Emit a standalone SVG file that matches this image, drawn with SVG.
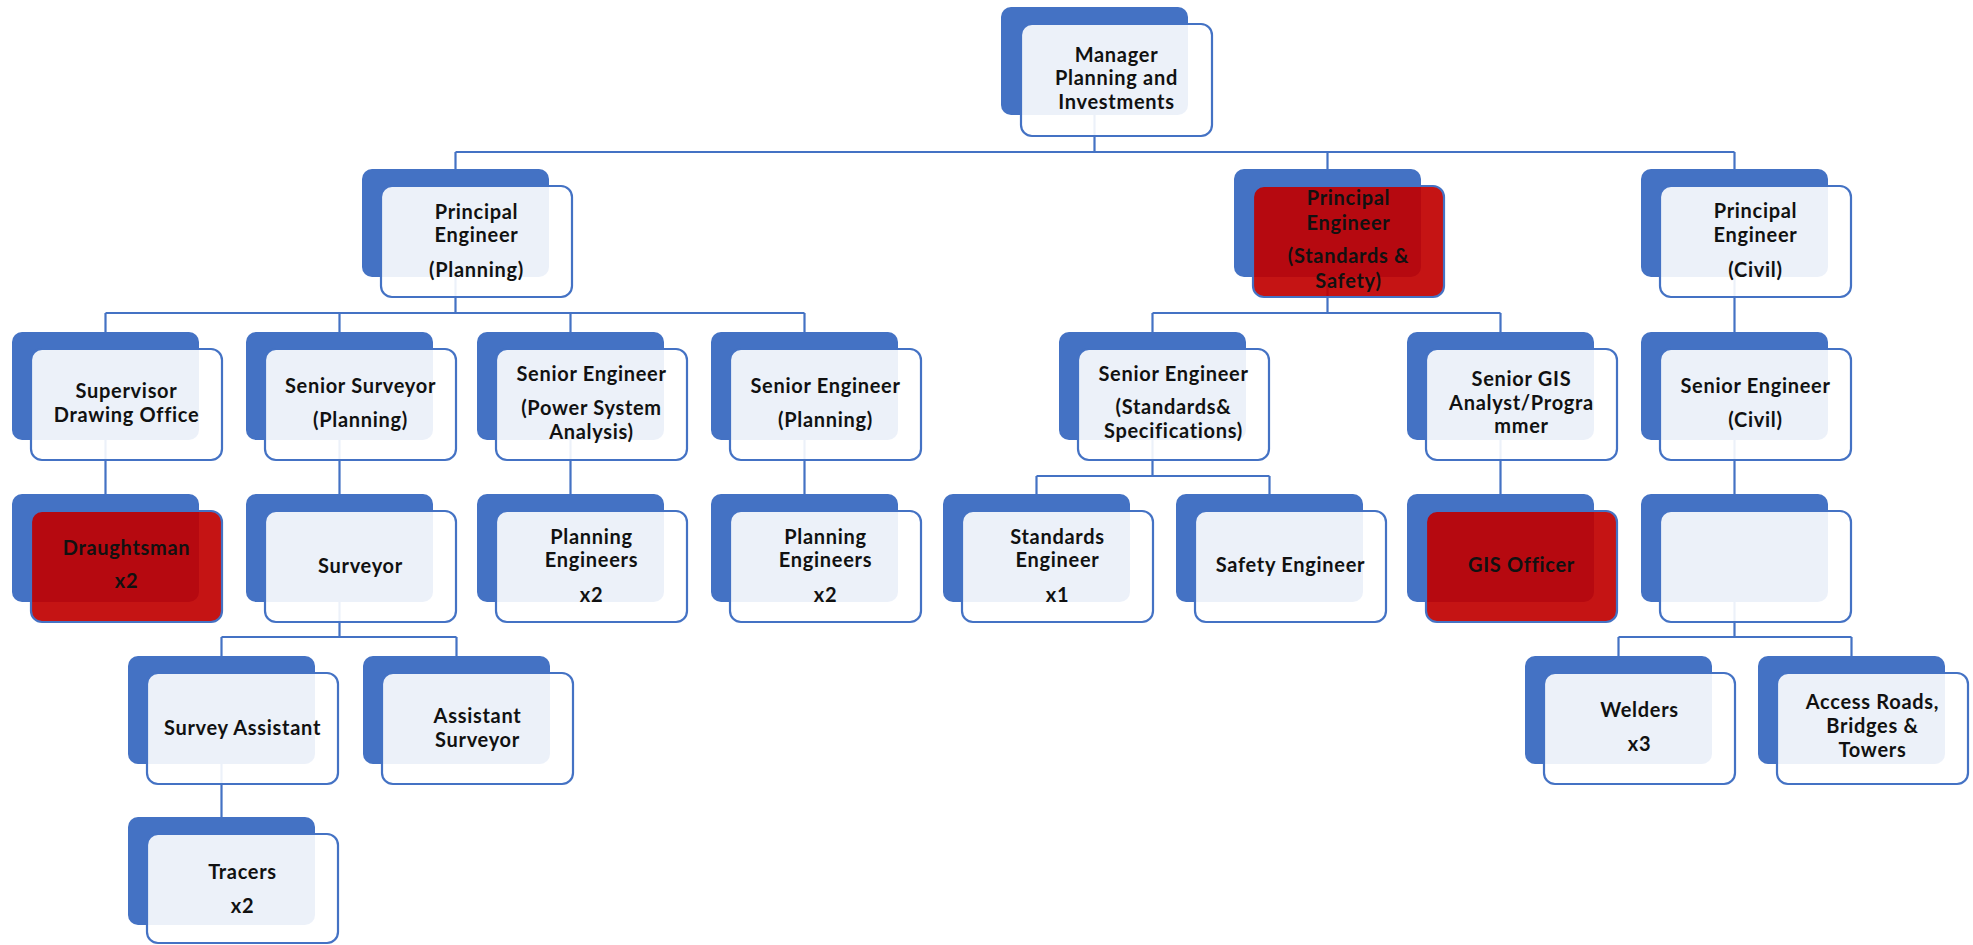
<svg xmlns="http://www.w3.org/2000/svg" width="1973" height="945" viewBox="0 0 1973 945">
<style>
.back{fill:#4472C4;}
.front{fill:#FFFFFF;fill-opacity:0.9;stroke:#4472C4;stroke-width:2.2;}
.red{fill:#C00000;fill-opacity:0.92;stroke:#4472C4;stroke-width:2.2;}
.t{font-family:Lato,"Liberation Sans",sans-serif;font-weight:bold;font-size:20px;letter-spacing:0.7px;fill:#111;text-anchor:middle;}
.c{fill:none;stroke:#4472C4;stroke-width:2.2;}
</style>
<rect width="1973" height="945" fill="#FFFFFF"/>
<g id="connectors" class="c">
<path d="M1094.5 115V152M455.5 152H1734.5M455.5 152V169M1327.5 152V169M1734.5 152V169"/>
<path d="M455.5 277V313M105.5 313H804.5M105.5 313V332M339.5 313V332M570.5 313V332M804.5 313V332"/>
<path d="M1327.5 277V313M1152.5 313H1500.5M1152.5 313V332M1500.5 313V332"/>
<path d="M1734.5 277V332"/>
<path d="M105.5 440V494M339.5 440V494M570.5 440V494M804.5 440V494M1500.5 440V494M1734.5 440V494"/>
<path d="M1152.5 440V476M1036.5 476H1269.5M1036.5 476V494M1269.5 476V494"/>
<path d="M339.5 602V637M221.5 637H456.5M221.5 637V656M456.5 637V656"/>
<path d="M1734.5 602V637M1618.5 637H1851.5M1618.5 637V656M1851.5 637V656"/>
<path d="M221.5 764V817"/>
</g>
<g id="manager">
<rect class="back" x="1001" y="7" width="187" height="108" rx="10"/>
<rect class="front" x="1021" y="24" width="191" height="112" rx="11"/>
<text class="t"><tspan x="1116.5" y="62">Manager</tspan><tspan x="1116.5" y="85">Planning and</tspan><tspan x="1116.5" y="109">Investments</tspan></text>
</g>
<g id="principal-planning">
<rect class="back" x="362" y="169" width="187" height="108" rx="10"/>
<rect class="front" x="381" y="186" width="191" height="111" rx="11"/>
<text class="t"><tspan x="476.5" y="219">Principal</tspan><tspan x="476.5" y="242">Engineer</tspan><tspan x="476.5" y="277">(Planning)</tspan></text>
</g>
<g id="principal-standards">
<rect class="back" x="1234" y="169" width="187" height="108" rx="10"/>
<rect class="red" x="1253" y="186" width="191" height="111" rx="11"/>
<text class="t"><tspan x="1348.5" y="205">Principal</tspan><tspan x="1348.5" y="230">Engineer</tspan><tspan x="1348.5" y="263">(Standards &amp;</tspan><tspan x="1348.5" y="288">Safety)</tspan></text>
</g>
<g id="principal-civil">
<rect class="back" x="1641" y="169" width="187" height="108" rx="10"/>
<rect class="front" x="1660" y="186" width="191" height="111" rx="11"/>
<text class="t"><tspan x="1755.5" y="218">Principal</tspan><tspan x="1755.5" y="242">Engineer</tspan><tspan x="1755.5" y="277">(Civil)</tspan></text>
</g>
<g id="supervisor-drawing-office">
<rect class="back" x="12" y="332" width="187" height="108" rx="10"/>
<rect class="front" x="31" y="349" width="191" height="111" rx="11"/>
<text class="t"><tspan x="126.5" y="398">Supervisor</tspan><tspan x="126.5" y="422">Drawing Office</tspan></text>
</g>
<g id="senior-surveyor">
<rect class="back" x="246" y="332" width="187" height="108" rx="10"/>
<rect class="front" x="265" y="349" width="191" height="111" rx="11"/>
<text class="t"><tspan x="360.5" y="393">Senior Surveyor</tspan><tspan x="360.5" y="427">(Planning)</tspan></text>
</g>
<g id="senior-engineer-psa">
<rect class="back" x="477" y="332" width="187" height="108" rx="10"/>
<rect class="front" x="496" y="349" width="191" height="111" rx="11"/>
<text class="t"><tspan x="591.5" y="381">Senior Engineer</tspan><tspan x="591.5" y="415">(Power System</tspan><tspan x="591.5" y="439">Analysis)</tspan></text>
</g>
<g id="senior-engineer-planning">
<rect class="back" x="711" y="332" width="187" height="108" rx="10"/>
<rect class="front" x="730" y="349" width="191" height="111" rx="11"/>
<text class="t"><tspan x="825.5" y="393">Senior Engineer</tspan><tspan x="825.5" y="427">(Planning)</tspan></text>
</g>
<g id="senior-engineer-standards">
<rect class="back" x="1059" y="332" width="187" height="108" rx="10"/>
<rect class="front" x="1078" y="349" width="191" height="111" rx="11"/>
<text class="t"><tspan x="1173.5" y="381">Senior Engineer</tspan><tspan x="1173.5" y="414">(Standards&amp;</tspan><tspan x="1173.5" y="438">Specifications)</tspan></text>
</g>
<g id="senior-gis">
<rect class="back" x="1407" y="332" width="187" height="108" rx="10"/>
<rect class="front" x="1426" y="349" width="191" height="111" rx="11"/>
<text class="t"><tspan x="1521.5" y="386">Senior GIS</tspan><tspan x="1521.5" y="410">Analyst/Progra</tspan><tspan x="1521.5" y="433">mmer</tspan></text>
</g>
<g id="senior-engineer-civil">
<rect class="back" x="1641" y="332" width="187" height="108" rx="10"/>
<rect class="front" x="1660" y="349" width="191" height="111" rx="11"/>
<text class="t"><tspan x="1755.5" y="393">Senior Engineer</tspan><tspan x="1755.5" y="427">(Civil)</tspan></text>
</g>
<g id="draughtsman">
<rect class="back" x="12" y="494" width="187" height="108" rx="10"/>
<rect class="red" x="31" y="511" width="191" height="111" rx="11"/>
<text class="t"><tspan x="126.5" y="555">Draughtsman</tspan><tspan x="126.5" y="588">x2</tspan></text>
</g>
<g id="surveyor">
<rect class="back" x="246" y="494" width="187" height="108" rx="10"/>
<rect class="front" x="265" y="511" width="191" height="111" rx="11"/>
<text class="t"><tspan x="360.5" y="573">Surveyor</tspan></text>
</g>
<g id="planning-engineers-1">
<rect class="back" x="477" y="494" width="187" height="108" rx="10"/>
<rect class="front" x="496" y="511" width="191" height="111" rx="11"/>
<text class="t"><tspan x="591.5" y="544">Planning</tspan><tspan x="591.5" y="567">Engineers</tspan><tspan x="591.5" y="602">x2</tspan></text>
</g>
<g id="planning-engineers-2">
<rect class="back" x="711" y="494" width="187" height="108" rx="10"/>
<rect class="front" x="730" y="511" width="191" height="111" rx="11"/>
<text class="t"><tspan x="825.5" y="544">Planning</tspan><tspan x="825.5" y="567">Engineers</tspan><tspan x="825.5" y="602">x2</tspan></text>
</g>
<g id="standards-engineer">
<rect class="back" x="943" y="494" width="187" height="108" rx="10"/>
<rect class="front" x="962" y="511" width="191" height="111" rx="11"/>
<text class="t"><tspan x="1057.5" y="544">Standards</tspan><tspan x="1057.5" y="567">Engineer</tspan><tspan x="1057.5" y="602">x1</tspan></text>
</g>
<g id="safety-engineer">
<rect class="back" x="1176" y="494" width="187" height="108" rx="10"/>
<rect class="front" x="1195" y="511" width="191" height="111" rx="11"/>
<text class="t"><tspan x="1290.5" y="572">Safety Engineer</tspan></text>
</g>
<g id="gis-officer">
<rect class="back" x="1407" y="494" width="187" height="108" rx="10"/>
<rect class="red" x="1426" y="511" width="191" height="111" rx="11"/>
<text class="t"><tspan x="1521.5" y="572">GIS Officer</tspan></text>
</g>
<g id="civil-unnamed">
<rect class="back" x="1641" y="494" width="187" height="108" rx="10"/>
<rect class="front" x="1660" y="511" width="191" height="111" rx="11"/>
</g>
<g id="survey-assistant">
<rect class="back" x="128" y="656" width="187" height="108" rx="10"/>
<rect class="front" x="147" y="673" width="191" height="111" rx="11"/>
<text class="t"><tspan x="242.5" y="735">Survey Assistant</tspan></text>
</g>
<g id="assistant-surveyor">
<rect class="back" x="363" y="656" width="187" height="108" rx="10"/>
<rect class="front" x="382" y="673" width="191" height="111" rx="11"/>
<text class="t"><tspan x="477.5" y="723">Assistant</tspan><tspan x="477.5" y="747">Surveyor</tspan></text>
</g>
<g id="welders">
<rect class="back" x="1525" y="656" width="187" height="108" rx="10"/>
<rect class="front" x="1544" y="673" width="191" height="111" rx="11"/>
<text class="t"><tspan x="1639.5" y="717">Welders</tspan><tspan x="1639.5" y="751">x3</tspan></text>
</g>
<g id="access-roads">
<rect class="back" x="1758" y="656" width="187" height="108" rx="10"/>
<rect class="front" x="1777" y="673" width="191" height="111" rx="11"/>
<text class="t"><tspan x="1872.5" y="709">Access Roads,</tspan><tspan x="1872.5" y="733">Bridges &amp;</tspan><tspan x="1872.5" y="757">Towers</tspan></text>
</g>
<g id="tracers">
<rect class="back" x="128" y="817" width="187" height="108" rx="10"/>
<rect class="front" x="147" y="834" width="191" height="109" rx="11"/>
<text class="t"><tspan x="242.5" y="879">Tracers</tspan><tspan x="242.5" y="913">x2</tspan></text>
</g>
</svg>
